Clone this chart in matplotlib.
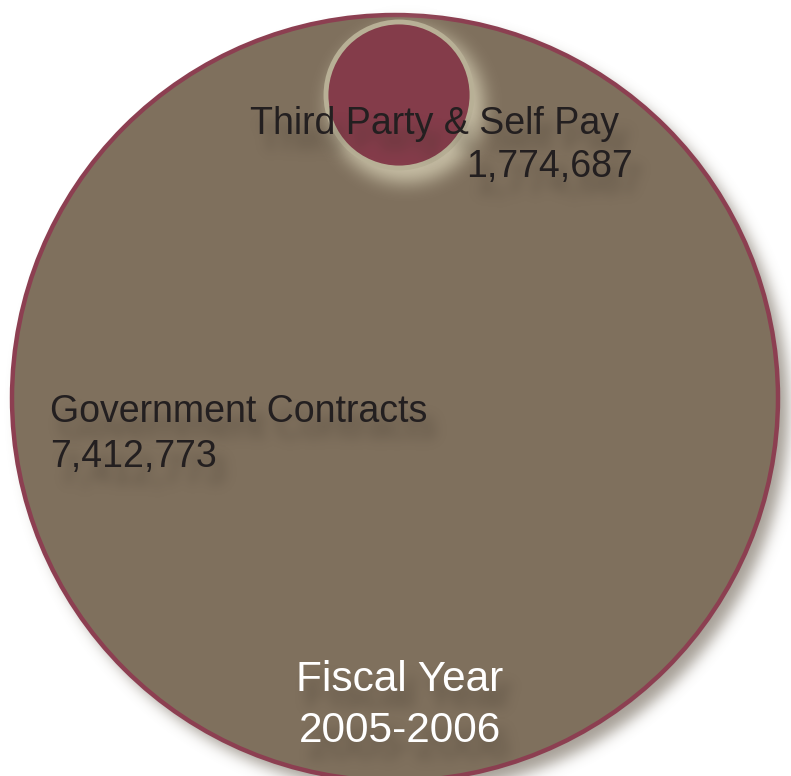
import numpy as np
import matplotlib
matplotlib.use("Agg")
from matplotlib import pyplot as plt
from matplotlib.patches import Circle

# Data
categories = ["Government Contracts", "Third Party & Self Pay"]
values = [7412773, 1774687]
title_lines = ["Fiscal Year", "2005-2006"]

plt.rcParams['font.family'] = ['Liberation Sans', 'DejaVu Sans']


def gauss_blur(a, sigma):
    # separable gaussian blur of a 2D array
    r = int(3 * sigma) + 1
    x = np.arange(-r, r + 1)
    k = np.exp(-0.5 * (x / sigma) ** 2)
    k /= k.sum()
    a = np.apply_along_axis(lambda m: np.convolve(m, k, mode='same'), 0, a)
    a = np.apply_along_axis(lambda m: np.convolve(m, k, mode='same'), 1, a)
    return a


class Shadow:
    def __init__(self, sigma, alpha, color, dx, dy):
        self.sigma = sigma
        self.alpha = alpha
        self.color = color
        self.dx = dx
        self.dy = dy

    def __call__(self, im, dpi):
        pad = int(3 * self.sigma) + max(abs(self.dx), abs(self.dy)) + 2
        src = np.pad(im, [(pad, pad), (pad, pad), (0, 0)], "constant")
        a = gauss_blur(src[..., 3], self.sigma) * self.alpha
        a = np.roll(a, self.dx, axis=1)
        a = np.roll(a, self.dy, axis=0)
        out = np.zeros_like(src)
        out[..., :3] = self.color
        out[..., 3] = np.clip(a, 0, 1)
        return out, -pad, -pad


W, H = 791, 776
fig = plt.figure(figsize=(W / 100, H / 100), dpi=100)
ax = fig.add_axes([0, 0, 1, 1])
ax.set_xlim(0, W)
ax.set_ylim(H, 0)
ax.set_aspect('equal')
ax.axis('off')

# big circle (government contracts)
big_c, big_r = (395, 398), 383
sh = Circle(big_c, big_r, color='black', zorder=1)
sh.set_agg_filter(Shadow(7, 0.6, (0.42, 0.38, 0.32), 10, 11))
ax.add_patch(sh)
ax.add_patch(Circle(big_c, big_r, facecolor='#7f705d', edgecolor='#8c3f51',
                    linewidth=3.2, zorder=2))

# small circle (third party & self pay)
sm_c, sm_r = (399, 95), 73
glow = Circle(sm_c, sm_r + 4, color='black', zorder=3)
glow.set_agg_filter(Shadow(9, 0.95, (0.80, 0.77, 0.67), 7, 10))
ax.add_patch(glow)
ax.add_patch(Circle(sm_c, sm_r, facecolor='#843c4a', edgecolor='#b8b096',
                    linewidth=3.5, zorder=4))


def label(x, y, s, ha, size, color):
    t = ax.text(x, y, s, ha=ha, va='center', fontsize=size, color='black', zorder=5)
    t.set_agg_filter(Shadow(6, 0.45, (0.22, 0.19, 0.15), 9, 16))
    ax.text(x, y, s, ha=ha, va='center', fontsize=size, color=color, zorder=6)


label(50, 412, categories[0], 'left', 27, '#231f20')
label(50, 457, f"{values[0]:,}", 'left', 27, '#231f20')
label(619, 124, categories[1], 'right', 27, '#231f20')
label(633, 167, f"{values[1]:,}", 'right', 27, '#231f20')
label(400, 680, title_lines[0], 'center', 30.5, 'white')
label(400, 731, title_lines[1], 'center', 30.5, 'white')

fig.savefig("out.png", dpi=100)
